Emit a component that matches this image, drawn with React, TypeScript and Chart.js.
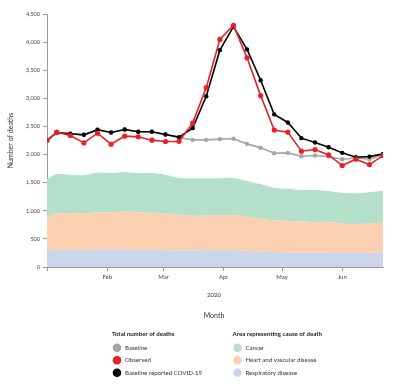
import React, { useEffect, useRef } from "react";
import { Chart, registerables } from "chart.js";

Chart.register(...registerables);

const weekDates = [
  "2020-01-01", "2020-01-06", "2020-01-13", "2020-01-20", "2020-01-27",
  "2020-02-03", "2020-02-10", "2020-02-17", "2020-02-24",
  "2020-03-02", "2020-03-09", "2020-03-16", "2020-03-23", "2020-03-30",
  "2020-04-06", "2020-04-13", "2020-04-20", "2020-04-27",
  "2020-05-04", "2020-05-11", "2020-05-18", "2020-05-25",
  "2020-06-01", "2020-06-08", "2020-06-15", "2020-06-22",
];

const observed = [2250, 2398, 2339, 2208, 2381, 2184, 2327, 2315, 2256, 2232, 2235, 2560, 3190, 4048, 4300, 3720, 3048, 2435, 2399, 2060, 2089, 1994, 1804, 1917, 1821, 1982];
const baselineCovid = [2250, 2390, 2369, 2351, 2440, 2393, 2446, 2405, 2405, 2357, 2310, 2470, 3036, 3857, 4274, 3869, 3321, 2714, 2571, 2292, 2214, 2131, 2030, 1952, 1964, 2012];
const baseline = [2250, 2390, 2369, 2351, 2440, 2393, 2446, 2405, 2405, 2357, 2300, 2262, 2262, 2274, 2280, 2190, 2119, 2024, 2030, 1970, 1982, 1964, 1917, 1940, 1917, 2000];

const respiratory = [295, 305, 305, 305, 310, 310, 310, 305, 305, 300, 295, 295, 300, 300, 300, 290, 275, 265, 260, 258, 258, 255, 252, 252, 255, 258];
const heart = [598, 645, 650, 645, 665, 660, 675, 665, 660, 650, 630, 615, 615, 620, 625, 610, 585, 565, 560, 552, 542, 540, 523, 513, 520, 532];
const cancer = [672, 700, 685, 680, 705, 700, 705, 700, 705, 690, 660, 670, 665, 660, 660, 630, 610, 580, 570, 560, 570, 555, 545, 545, 555, 570];

const monthTickDates = ["2020-01-01", "2020-02-01", "2020-03-01", "2020-04-01", "2020-05-01", "2020-06-01"];
const monthTickLabels = ["", "Feb", "Mar", "Apr", "May", "Jun"];

const yearLabel = "2020";
const xTitle = "Month";
const yTitle = "Number of deaths";

const legendLinesTitle = "Total number of deaths";
const legendLines = [
  { label: "Baseline", color: "#a6a6a6" },
  { label: "Observed", color: "#e8202a" },
  { label: "Baseline reported COVID-19", color: "#000000" },
];
const legendAreasTitle = "Area representing cause of death";
const legendAreas = [
  { label: "Cancer", color: "#b3dfcb" },
  { label: "Heart and vascular disease", color: "#fbd0b0" },
  { label: "Respiratory disease", color: "#ccd6e8" },
];

const DAY = 86400000;
const toDay = (s: string) => (Date.parse(s + "T00:00:00Z") - Date.parse("2020-01-01T00:00:00Z")) / DAY;

const FONT = "Lato, 'Open Sans', sans-serif";

export default function App() {
  const ref = useRef<HTMLCanvasElement | null>(null);

  useEffect(() => {
    document.body.style.margin = "0";
    const canvas = ref.current!;
    const xs = weekDates.map(toDay);
    const pts = (arr: number[]) => arr.map((v, i) => ({ x: xs[i], y: v }));
    const tickVals = monthTickDates.map(toDay);

    const extras = {
      id: "extras",
      afterDraw(chart: any) {
        const ctx = chart.ctx as CanvasRenderingContext2D;
        const ca = chart.chartArea;
        const cx = (ca.left + ca.right) / 2 - 1;
        ctx.save();
        ctx.fillStyle = "#333";
        ctx.textAlign = "center";
        ctx.textBaseline = "middle";
        ctx.font = `6px ${FONT}`;
        ctx.fillText(yearLabel, cx, 295);
        ctx.font = `7px ${FONT}`;
        ctx.fillText(xTitle, cx, 316);

        const drawCol = (title: string, items: { label: string; color: string }[], x0: number) => {
          ctx.textAlign = "left";
          ctx.font = `bold 6.1px ${FONT}`;
          ctx.fillStyle = "#222";
          ctx.fillText(title, x0, 334);
          items.forEach((it, i) => {
            const y = 347.7 + i * 12.5;
            ctx.beginPath();
            ctx.arc(x0 + 5, y, 4.3, 0, Math.PI * 2);
            ctx.fillStyle = it.color;
            ctx.fill();
            ctx.font = `6.1px ${FONT}`;
            ctx.fillStyle = "#333";
            ctx.fillText(it.label, x0 + 13, y);
          });
        };
        drawCol(legendLinesTitle, legendLines, 112);
        drawCol(legendAreasTitle, legendAreas, 232.5);
        ctx.restore();
      },
    };

    const lineDs = (label: string, data: number[], color: string, r: number) => ({
      type: "line" as const,
      label,
      data: pts(data),
      borderColor: color,
      backgroundColor: color,
      borderWidth: 1.6,
      pointRadius: r,
      pointBorderWidth: 0,
      pointBackgroundColor: color,
      fill: false,
      tension: 0,
      stack: label,
    });
    const areaDs = (label: string, data: number[], color: string, fill: any) => ({
      type: "line" as const,
      label,
      data: pts(data),
      borderWidth: 0,
      borderColor: color,
      backgroundColor: color,
      pointRadius: 0,
      fill,
      tension: 0.35,
      stack: "causes",
    });

    const chart = new Chart(canvas, {
      type: "line",
      data: {
        datasets: [
          lineDs("Observed", observed, "#e8202a", 2.6),
          lineDs("Baseline reported COVID-19", baselineCovid, "#000000", 2.2),
          lineDs("Baseline", baseline, "#a6a6a6", 2.2),
          areaDs("Respiratory disease", respiratory, "#ccd6e8", "origin"),
          areaDs("Heart and vascular disease", heart, "#fbd0b0", "-1"),
          areaDs("Cancer", cancer, "#b3dfcb", "-1"),
        ],
      },
      options: {
        animation: false,
        responsive: false,
        maintainAspectRatio: false,
        layout: { padding: { top: 14, right: 17, left: 0, bottom: 0 } },
        plugins: { legend: { display: false }, tooltip: { enabled: false } },
        scales: {
          x: {
            type: "linear",
            min: 0,
            max: toDay(weekDates[weekDates.length - 1]),
            afterBuildTicks: (s: any) => {
              s.ticks = tickVals.map((v) => ({ value: v }));
            },
            afterFit: (s: any) => {
              s.height = 120;
            },
            ticks: {
              autoSkip: false,
              maxRotation: 0,
              padding: 2,
              color: "#444",
              font: { family: FONT, size: 6 },
              callback: (v: any) => {
                const i = tickVals.indexOf(Number(v));
                return i >= 0 ? monthTickLabels[i] : "";
              },
            },
            grid: { display: true, drawOnChartArea: false, drawTicks: true, tickLength: 4, color: "#999" },
            border: { display: true, color: "#999", width: 1 },
          },
          y: {
            stacked: true,
            min: 0,
            max: 4500,
            afterFit: (s: any) => {
              s.width = 47;
            },
            ticks: {
              stepSize: 500,
              padding: 3,
              color: "#444",
              font: { family: FONT, size: 5.5 },
              callback: (v: any) => Number(v).toLocaleString("en-US"),
            },
            title: {
              display: true,
              text: yTitle,
              color: "#333",
              font: { family: FONT, size: 7 },
              padding: { top: 7, bottom: 0 },
            },
            grid: { display: true, drawOnChartArea: false, drawTicks: true, tickLength: 4, color: "#999" },
            border: { display: true, color: "#999", width: 1 },
          },
        },
      },
      plugins: [extras],
    } as any);
    return () => chart.destroy();
  }, []);

  return (
    <div style={{ width: 400, height: 387, background: "#fff" }}>
      <canvas ref={ref} width={400} height={387} style={{ display: "block" }} />
    </div>
  );
}
